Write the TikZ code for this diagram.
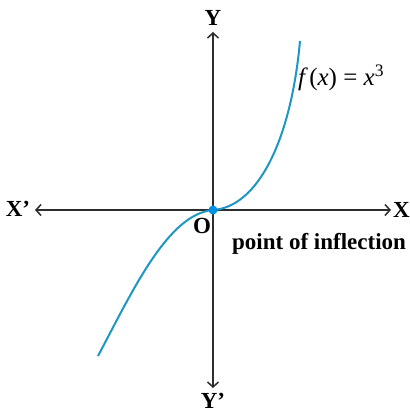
\documentclass[tikz,border=0pt]{standalone}
\usepackage{fontspec}
\setmainfont{Liberation Serif}
\usetikzlibrary{arrows.meta}

\definecolor{axisgray}{RGB}{45,45,45}
\definecolor{curveblue}{RGB}{30,150,195}
\definecolor{dotblue}{RGB}{0,145,230}

\begin{document}
\begin{tikzpicture}[
    x=1pt, y=1pt,
    axis/.style={draw=axisgray,line width=1.5pt,
      {Straight Barb[length=5pt,width=11pt]}-{Straight Barb[length=5pt,width=11pt]}},
    curve/.style={draw=curveblue,line width=2pt},
    lbl/.style={font=\fontsize{23}{23}\selectfont\bfseries,inner sep=0pt},
    fn/.style={font=\fontsize{25}{25}\selectfont\itshape,inner sep=0pt}
  ]
  \useasboundingbox (-213,-204) rectangle (196,210);
  % axis ends
  \coordinate (xl) at (-178,0);
  \coordinate (xr) at (178,0);
  \coordinate (yt) at (0,178);
  \coordinate (yb) at (0,-178);
  \coordinate (cl) at (-115,-146);
  \coordinate (cr) at (87,169);
  \draw[axis] (xl) -- (xr);
  \draw[axis] (yb) -- (yt);
  % the cubic
  \draw[curve] (cl) .. controls (-80,-80) and (-45,-4) .. (0,0)
    .. controls (45,3) and (78,70) .. (cr);
  \node[circle,fill=dotblue,inner sep=0pt,minimum size=9pt] (O) at (0,0) {};
  % labels
  \node[lbl] (xlbl) at (-195,1) {X’};
  \node[lbl,anchor=west] (xrbl) at (180,0) {X};
  \node[lbl] (ylbl) at (0,192) {Y};
  \node[lbl] (yblbl) at (0,-191) {Y’};
  \node[lbl] (olbl) at (-11,-16) {O};
  \node[lbl,anchor=base west] (infl) at (19,-40) {point of inflection};
  \node[fn,anchor=west] (flbl) at (85,132) {f\,\upshape(\itshape x\upshape) = \itshape x\textsuperscript{\upshape 3}};
\end{tikzpicture}
\end{document}
